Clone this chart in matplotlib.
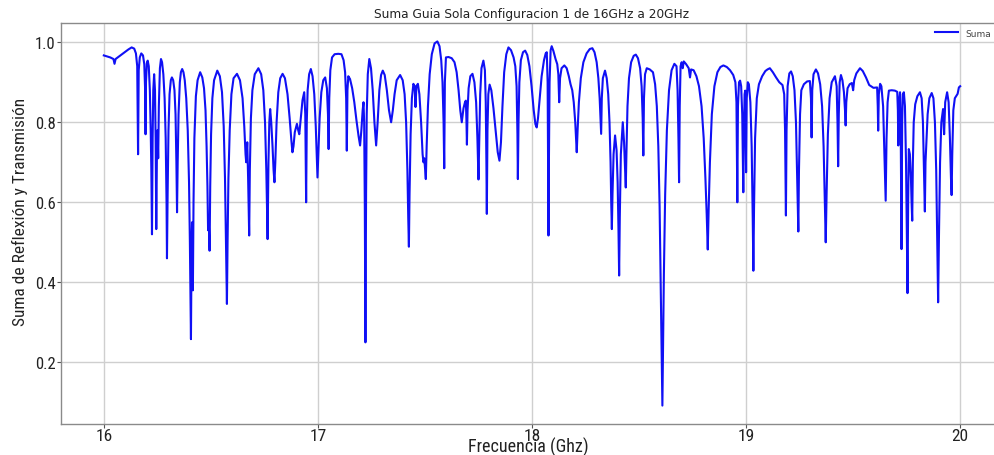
import matplotlib
matplotlib.use("Agg")
import matplotlib.pyplot as plt

title = "Suma Guia Sola Configuracion 1 de 16GHz a 20GHz"
xlabel = "Frecuencia (Ghz)"
ylabel = "Suma de Reflexión y Transmisión"
series_name = "Suma"
xticks = [16, 17, 18, 19, 20]
yticks = [0.2, 0.4, 0.6, 0.8, 1.0]

freq_1 = [16.000, 16.030, 16.045, 16.050, 16.055, 16.090, 16.115, 16.130, 16.142, 16.150,
          16.156, 16.160, 16.163, 16.168, 16.175, 16.183, 16.189, 16.193, 16.195, 16.197,
          16.201, 16.205, 16.210, 16.215, 16.219, 16.222, 16.225, 16.228, 16.231, 16.235,
          16.239, 16.242, 16.245, 16.248, 16.251, 16.254, 16.257, 16.262, 16.267, 16.272,
          16.278, 16.284, 16.289, 16.293, 16.295, 16.298, 16.302, 16.307, 16.313, 16.318,
          16.324, 16.330, 16.335, 16.339, 16.342, 16.345, 16.349, 16.355, 16.360, 16.366,
          16.372, 16.378, 16.385, 16.392, 16.398, 16.402, 16.405, 16.407, 16.410, 16.412,
          16.416, 16.419, 16.423, 16.430, 16.438, 16.450, 16.460, 16.468, 16.475, 16.480,
          16.484, 16.487, 16.490, 16.494, 16.497, 16.501, 16.507, 16.515, 16.530, 16.542,
          16.552, 16.560, 16.566, 16.571, 16.575, 16.578, 16.582, 16.588, 16.596, 16.606,
          16.622, 16.636, 16.648, 16.656, 16.662, 16.665, 16.670, 16.674, 16.679, 16.682,
          16.687, 16.694, 16.705, 16.722, 16.735, 16.745, 16.753, 16.759, 16.765, 16.769,
          16.773, 16.777, 16.782, 16.788, 16.793, 16.797, 16.801, 16.807, 16.815, 16.824,
          16.835, 16.846, 16.858, 16.868, 16.876, 16.881, 16.886, 16.892]
suma_1 = [0.967, 0.962, 0.958, 0.946, 0.958, 0.972, 0.982, 0.987, 0.984, 0.972,
          0.940, 0.720, 0.930, 0.962, 0.972, 0.967, 0.945, 0.880, 0.770, 0.900,
          0.948, 0.954, 0.940, 0.880, 0.780, 0.680, 0.520, 0.760, 0.880, 0.920,
          0.880, 0.760, 0.533, 0.720, 0.780, 0.710, 0.840, 0.935, 0.958, 0.950,
          0.920, 0.860, 0.760, 0.600, 0.460, 0.620, 0.780, 0.870, 0.905, 0.912,
          0.905, 0.880, 0.820, 0.700, 0.575, 0.700, 0.820, 0.900, 0.925, 0.933,
          0.925, 0.905, 0.860, 0.780, 0.650, 0.500, 0.360, 0.258, 0.500, 0.550,
          0.380, 0.600, 0.760, 0.865, 0.905, 0.925, 0.912, 0.885, 0.830, 0.740,
          0.640, 0.530, 0.560, 0.479, 0.640, 0.770, 0.860, 0.905, 0.929, 0.915,
          0.875, 0.790, 0.660, 0.480, 0.346, 0.500, 0.660, 0.780, 0.870, 0.910,
          0.921, 0.905, 0.860, 0.790, 0.720, 0.700, 0.750, 0.660, 0.517, 0.680,
          0.810, 0.880, 0.920, 0.935, 0.920, 0.880, 0.800, 0.680, 0.508, 0.700,
          0.800, 0.833, 0.800, 0.740, 0.680, 0.650, 0.700, 0.800, 0.875, 0.910,
          0.921, 0.910, 0.870, 0.810, 0.755, 0.725, 0.740, 0.775]

freq_2 = [16.902, 16.908, 16.913, 16.920, 16.928, 16.936, 16.941, 16.945, 16.948, 16.952,
          16.959, 16.967, 16.975, 16.983, 16.990, 16.995, 16.998, 17.002, 17.008, 17.016,
          17.025, 17.034, 17.042, 17.047, 17.050, 17.053, 17.058, 17.066, 17.078, 17.095,
          17.110, 17.120, 17.127, 17.132, 17.135, 17.138, 17.142, 17.150, 17.160, 17.170,
          17.180, 17.190, 17.197, 17.203, 17.209, 17.213, 17.216, 17.219, 17.222, 17.225,
          17.228, 17.233, 17.240, 17.248, 17.256, 17.264, 17.272, 17.279, 17.287, 17.295,
          17.303, 17.312, 17.322, 17.332, 17.342, 17.350, 17.358, 17.368, 17.384, 17.396,
          17.405, 17.412, 17.418, 17.422, 17.425, 17.428, 17.433, 17.439, 17.446, 17.452,
          17.456, 17.460, 17.467, 17.474, 17.482, 17.489, 17.493, 17.497, 17.501, 17.504,
          17.508, 17.514, 17.522, 17.532, 17.545, 17.558, 17.568, 17.576, 17.582, 17.587,
          17.590, 17.593, 17.598, 17.610, 17.625, 17.638, 17.648, 17.657, 17.665, 17.672,
          17.680, 17.687, 17.691, 17.694, 17.696, 17.699, 17.704, 17.712, 17.722, 17.731,
          17.739, 17.745, 17.750, 17.754, 17.758, 17.764, 17.773, 17.780, 17.784, 17.787,
          17.789, 17.792, 17.796, 17.802, 17.810, 17.820, 17.830, 17.840, 17.848, 17.855,
          17.862, 17.870, 17.880]
suma_2 = [0.796, 0.780, 0.770, 0.810, 0.855, 0.875, 0.820, 0.600, 0.800, 0.880,
          0.920, 0.933, 0.915, 0.870, 0.790, 0.710, 0.662, 0.720, 0.810, 0.875,
          0.905, 0.912, 0.885, 0.820, 0.733, 0.860, 0.930, 0.962, 0.970, 0.971,
          0.970, 0.955, 0.925, 0.860, 0.729, 0.880, 0.915, 0.908, 0.885, 0.850,
          0.805, 0.765, 0.742, 0.780, 0.830, 0.850, 0.800, 0.600, 0.250, 0.620,
          0.820, 0.920, 0.958, 0.935, 0.880, 0.800, 0.742, 0.800, 0.880, 0.918,
          0.929, 0.918, 0.880, 0.830, 0.800, 0.830, 0.870, 0.905, 0.918, 0.905,
          0.870, 0.800, 0.680, 0.560, 0.489, 0.620, 0.770, 0.860, 0.896, 0.890,
          0.838, 0.890, 0.896, 0.870, 0.800, 0.720, 0.700, 0.710, 0.680, 0.658,
          0.740, 0.840, 0.920, 0.970, 0.997, 1.002, 0.990, 0.955, 0.900, 0.800,
          0.685, 0.900, 0.962, 0.963, 0.960, 0.950, 0.925, 0.880, 0.830, 0.800,
          0.835, 0.850, 0.854, 0.800, 0.744, 0.830, 0.885, 0.915, 0.921, 0.900,
          0.850, 0.760, 0.657, 0.770, 0.870, 0.935, 0.954, 0.930, 0.850, 0.700,
          0.571, 0.780, 0.870, 0.894, 0.880, 0.835, 0.780, 0.725, 0.704, 0.750,
          0.840, 0.925, 0.970]

freq_3 = [17.890, 17.902, 17.914, 17.922, 17.928, 17.932, 17.934, 17.937, 17.941, 17.948,
          17.958, 17.968, 17.978, 17.988, 17.998, 18.008, 18.016, 18.022, 18.028, 18.036,
          18.045, 18.056, 18.064, 18.069, 18.073, 18.075, 18.077, 18.079, 18.082, 18.087,
          18.092, 18.100, 18.110, 18.118, 18.123, 18.127, 18.131, 18.138, 18.151, 18.162,
          18.172, 18.180, 18.188, 18.195, 18.202, 18.206, 18.209, 18.213, 18.219, 18.228,
          18.240, 18.255, 18.270, 18.282, 18.292, 18.302, 18.310, 18.316, 18.320, 18.323,
          18.326, 18.331, 18.341, 18.349, 18.356, 18.362, 18.367, 18.370, 18.373, 18.376,
          18.381, 18.388, 18.395, 18.400, 18.404, 18.407, 18.410, 18.415, 18.424, 18.430,
          18.434, 18.438, 18.441, 18.446, 18.453, 18.463, 18.475, 18.485, 18.495, 18.505,
          18.512, 18.517, 18.520, 18.523, 18.528, 18.536, 18.550, 18.565, 18.575, 18.583,
          18.590, 18.596, 18.601, 18.605, 18.609, 18.612, 18.616, 18.622, 18.630, 18.640,
          18.652, 18.665, 18.675, 18.680, 18.684, 18.687, 18.690, 18.694, 18.699, 18.704,
          18.709, 18.720, 18.732, 18.738, 18.743, 18.755, 18.768, 18.780, 18.792, 18.802,
          18.810, 18.816, 18.821, 18.825, 18.831, 18.840, 18.852, 18.866, 18.880, 18.894]
suma_3 = [0.987, 0.980, 0.962, 0.940, 0.890, 0.770, 0.658, 0.800, 0.900, 0.955,
          0.975, 0.979, 0.968, 0.940, 0.890, 0.830, 0.795, 0.787, 0.810, 0.860,
          0.915, 0.955, 0.972, 0.975, 0.900, 0.700, 0.517, 0.700, 0.900, 0.980,
          0.990, 0.978, 0.958, 0.945, 0.920, 0.850, 0.910, 0.935, 0.942, 0.935,
          0.915, 0.895, 0.880, 0.850, 0.800, 0.760, 0.725, 0.780, 0.850, 0.910,
          0.950, 0.972, 0.983, 0.985, 0.975, 0.950, 0.910, 0.860, 0.810, 0.771,
          0.860, 0.910, 0.929, 0.910, 0.870, 0.800, 0.700, 0.600, 0.533, 0.620,
          0.720, 0.767, 0.730, 0.650, 0.530, 0.417, 0.560, 0.720, 0.800, 0.750,
          0.690, 0.637, 0.720, 0.840, 0.910, 0.950, 0.966, 0.969, 0.960, 0.935,
          0.890, 0.810, 0.717, 0.860, 0.920, 0.935, 0.932, 0.925, 0.895, 0.840,
          0.740, 0.590, 0.400, 0.230, 0.092, 0.230, 0.420, 0.620, 0.780, 0.880,
          0.930, 0.946, 0.940, 0.880, 0.760, 0.650, 0.840, 0.940, 0.950, 0.935,
          0.952, 0.945, 0.935, 0.912, 0.932, 0.930, 0.915, 0.890, 0.840, 0.760,
          0.660, 0.570, 0.482, 0.580, 0.700, 0.820, 0.890, 0.925, 0.938, 0.942]

freq_4 = [18.910, 18.925, 18.940, 18.950, 18.955, 18.959, 18.962, 18.967, 18.972, 18.977,
          18.982, 18.985, 18.987, 18.990, 18.993, 18.996, 18.998, 19.000, 19.003, 19.008,
          19.013, 19.020, 19.026, 19.031, 19.034, 19.037, 19.042, 19.050, 19.060, 19.075,
          19.090, 19.100, 19.111, 19.125, 19.140, 19.155, 19.170, 19.178, 19.182, 19.186,
          19.189, 19.194, 19.202, 19.210, 19.218, 19.226, 19.233, 19.238, 19.241, 19.244,
          19.247, 19.252, 19.258, 19.270, 19.285, 19.298, 19.303, 19.306, 19.309, 19.315,
          19.326, 19.336, 19.346, 19.355, 19.362, 19.368, 19.372, 19.376, 19.382, 19.390,
          19.400, 19.415, 19.423, 19.427, 19.430, 19.433, 19.437, 19.443, 19.450, 19.457,
          19.462, 19.465, 19.468, 19.474, 19.484, 19.494, 19.500, 19.505, 19.515, 19.532,
          19.545, 19.560, 19.575, 19.595, 19.612, 19.615, 19.617, 19.620, 19.626, 19.632]
suma_4 = [0.938, 0.930, 0.918, 0.900, 0.850, 0.600, 0.840, 0.900, 0.904, 0.890,
          0.820, 0.700, 0.625, 0.780, 0.870, 0.879, 0.800, 0.675, 0.860, 0.900,
          0.895, 0.850, 0.740, 0.560, 0.429, 0.580, 0.760, 0.860, 0.895, 0.915,
          0.928, 0.932, 0.935, 0.925, 0.912, 0.900, 0.893, 0.870, 0.780, 0.567,
          0.780, 0.890, 0.922, 0.927, 0.915, 0.880, 0.800, 0.680, 0.600, 0.527,
          0.680, 0.820, 0.880, 0.895, 0.902, 0.903, 0.860, 0.762, 0.880, 0.920,
          0.932, 0.922, 0.895, 0.840, 0.740, 0.600, 0.500, 0.620, 0.770, 0.860,
          0.900, 0.915, 0.890, 0.800, 0.690, 0.820, 0.900, 0.918, 0.905, 0.875,
          0.830, 0.792, 0.850, 0.885, 0.895, 0.898, 0.880, 0.905, 0.922, 0.935,
          0.928, 0.912, 0.893, 0.886, 0.887, 0.840, 0.779, 0.870, 0.896, 0.890]

freq_5 = [19.640, 19.646, 19.652, 19.656, 19.661, 19.667, 19.680, 19.695, 19.706, 19.709,
          19.711, 19.714, 19.719, 19.722, 19.726, 19.729, 19.732, 19.737, 19.742, 19.747,
          19.751, 19.754, 19.757, 19.760, 19.765, 19.770, 19.773, 19.776, 19.779, 19.783,
          19.790, 19.800, 19.812, 19.820, 19.826, 19.830, 19.835, 19.838, 19.842, 19.848,
          19.856, 19.867, 19.875, 19.882, 19.888, 19.893, 19.897, 19.901, 19.906, 19.912,
          19.920, 19.925, 19.930, 19.939, 19.946, 19.952, 19.957, 19.960, 19.963, 19.968,
          19.975, 19.988, 19.994, 20.000]
suma_5 = [0.840, 0.720, 0.604, 0.760, 0.850, 0.879, 0.880, 0.879, 0.876, 0.830,
          0.742, 0.850, 0.875, 0.800, 0.483, 0.800, 0.870, 0.875, 0.840, 0.700,
          0.500, 0.373, 0.600, 0.733, 0.720, 0.660, 0.600, 0.554, 0.700, 0.800,
          0.845, 0.865, 0.875, 0.860, 0.800, 0.700, 0.577, 0.700, 0.750, 0.820,
          0.860, 0.873, 0.860, 0.800, 0.680, 0.500, 0.350, 0.520, 0.700, 0.800,
          0.833, 0.770, 0.850, 0.875, 0.850, 0.760, 0.660, 0.618, 0.720, 0.830,
          0.860, 0.871, 0.887, 0.890]

freq = freq_1 + freq_2 + freq_3 + freq_4 + freq_5
suma = suma_1 + suma_2 + suma_3 + suma_4 + suma_5

narrow = ["Liberation Sans Narrow", "Roboto Condensed", "Liberation Sans", "DejaVu Sans"]

W, H = 995, 456
fig = plt.figure(figsize=(W / 100, H / 100), dpi=100)
ax = fig.add_axes([61 / W, 1 - 425 / H, (1003 - 61) / W, (425 - 24) / H])

ax.plot(freq, suma, color="#1010f5", linewidth=1.5, label=series_name)

ax.set_xlim(15.8, 20.2)
ax.set_ylim(0.046, 1.048)
ax.set_xticks(xticks)
ax.set_xticklabels([str(t) for t in xticks], family=narrow, fontsize=12.5)
ax.set_yticks(yticks)
ax.set_yticklabels([f"{t:.1f}" for t in yticks], family=narrow, fontsize=12)
ax.grid(True, color="#cfcfcf", linewidth=1.0)
ax.set_axisbelow(True)
for s in ax.spines.values():
    s.set_color("#8a8a8a")
    s.set_linewidth(1.0)
ax.tick_params(colors="#555555", length=3, width=0.8, pad=1)
ax.tick_params(axis="x", labelcolor="#222222", pad=0)
ax.tick_params(axis="y", labelcolor="#222222")

ax.set_xlabel(xlabel, family=narrow, fontsize=13, color="#222222")
ax.xaxis.label.set_va("baseline")
ax.xaxis.set_label_coords(528 / W, 3.5 / H, transform=fig.transFigure)
ax.set_ylabel(ylabel, family=narrow, fontsize=12.5, color="#222222")
ax.yaxis.label.set_va("center")
ax.yaxis.set_label_coords(20 / W, 1 - 212 / H, transform=fig.transFigure)
ax.set_title(title, family="DejaVu Sans", fontsize=8.7, pad=4, color="#222222")

leg = ax.legend(loc="upper right", frameon=False, fontsize=6.5, handlelength=2.6,
                bbox_to_anchor=(995 / W, 1 - 26 / H), bbox_transform=fig.transFigure,
                borderaxespad=0.0)
for t in leg.get_texts():
    t.set_color("#444444")

fig.savefig("out.png", dpi=100)
